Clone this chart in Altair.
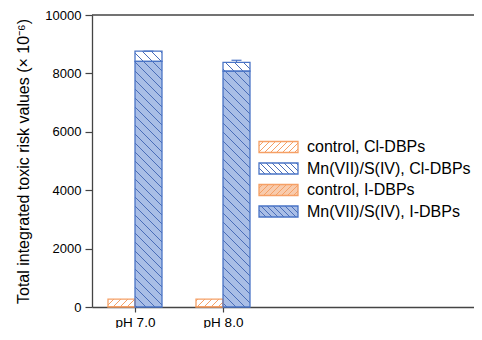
import math
import altair as alt
import pandas as pd

# ---------------- data ----------------
ph_labels = ["pH 7.0", "pH 8.0"]
ph_pos = [1, 2]
ctrl_cl = [260, 260]
ctrl_i = [10, 10]
mn_cl = [350, 300]
mn_i = [8410, 8080]
mn_err = [0, 70]
series_names = ["control, Cl-DBPs", "Mn(VII)/S(IV), Cl-DBPs",
                "control, I-DBPs", "Mn(VII)/S(IV), I-DBPs"]
y_ticks = [0, 2000, 4000, 6000, 8000, 10000]
Y_TITLE = "Total integrated toxic risk values (× 10⁻⁶)"

# ---------------- layout ----------------
W, H = 382, 292
PAD = {"left": 84, "top": 7, "right": 0, "bottom": 21}
X_MIN = 1 - 43 / 88
X_MAX = X_MIN + W / 88
Y_MAX = 10000
kx = W / (X_MAX - X_MIN)     # px per x unit
ky = H / Y_MAX               # px per y unit
BAR_W = 27 / kx
FONT = "Liberation Sans"

ORANGE = "#F5A066"
ORANGE_FILL = "#F8CBAD"
BLUE = "#4A74C6"
BLUE_FILL = "#A9BEE6"
BLUE_HATCH = "#4A6DB8"

style = {
    "control, Cl-DBPs": dict(fill="white", stroke=ORANGE, hatch=ORANGE, dir="/", step=7),
    "Mn(VII)/S(IV), Cl-DBPs": dict(fill="white", stroke=BLUE, hatch=BLUE_HATCH, dir="\\", step=9),
    "control, I-DBPs": dict(fill=ORANGE_FILL, stroke=ORANGE, hatch=ORANGE, dir="/", step=7),
    "Mn(VII)/S(IV), I-DBPs": dict(fill=BLUE_FILL, stroke=BLUE, hatch=BLUE_HATCH, dir="\\", step=9),
}


def hatch(x0, x1, y0, y1, direction, step):
    """45-degree hatch segments clipped to a rectangle given in data units."""
    X0, X1 = (x0 - X_MIN) * kx, (x1 - X_MIN) * kx
    Y0, Y1 = y0 * ky, y1 * ky
    segs = []
    if direction == "\\":
        c = math.ceil((X0 + Y0) / step) * step
        while c <= X1 + Y1:
            a, b = max(X0, c - Y1), min(X1, c - Y0)
            if b - a > 0.3:
                segs.append((a, c - a, b, c - b))
            c += step
    else:
        c = math.ceil((Y0 - X1) / step) * step
        while c <= Y1 - X0:
            a, b = max(X0, Y0 - c), min(X1, Y1 - c)
            if b - a > 0.3:
                segs.append((a, a + c, b, b + c))
            c += step
    return [dict(xa=X_MIN + a / kx, ya=ay / ky, xb=X_MIN + b / kx, yb=by / ky)
            for a, ay, b, by in segs]


# ---------------- bars ----------------
rects = []
for i, x in enumerate(ph_pos):
    rects.append(dict(series=series_names[2], x0=x - BAR_W, x1=x, y0=0, y1=ctrl_i[i]))
    rects.append(dict(series=series_names[0], x0=x - BAR_W, x1=x,
                      y0=ctrl_i[i], y1=ctrl_i[i] + ctrl_cl[i]))
    rects.append(dict(series=series_names[3], x0=x, x1=x + BAR_W, y0=0, y1=mn_i[i]))
    rects.append(dict(series=series_names[1], x0=x, x1=x + BAR_W,
                      y0=mn_i[i], y1=mn_i[i] + mn_cl[i]))
for r in rects:
    st = style[r["series"]]
    r["fill"], r["stroke"] = st["fill"], st["stroke"]
bars = pd.DataFrame(rects)

hatch_rows = []
for r in rects:
    st = style[r["series"]]
    for s in hatch(r["x0"], r["x1"], r["y0"], r["y1"], st["dir"], st["step"]):
        s["color"] = st["hatch"]
        hatch_rows.append(s)

err_rows = []
cap_half = 5 / kx
for i, x in enumerate(ph_pos):
    top = mn_i[i] + mn_cl[i]
    xc = x + BAR_W / 2
    err_rows.append(dict(xa=xc, xb=xc, ya=top, yb=top + mn_err[i]))
    err_rows.append(dict(xa=xc - cap_half, xb=xc + cap_half,
                         ya=top + mn_err[i], yb=top + mn_err[i]))
errs = pd.DataFrame(err_rows)

# ---------------- legend (pixel layout inside plot -> data units) ----------------
def px2x(px):
    return X_MIN + px / kx


def py2y(py):
    return Y_MAX * (1 - py / H)


leg_rects, leg_text = [], []
for k, name in enumerate(series_names):
    cy = 132 + 21.5 * k
    r = dict(series=name, x0=px2x(167), x1=px2x(206),
             y0=py2y(cy + 5.5), y1=py2y(cy - 5.5))
    st = style[name]
    r["fill"], r["stroke"] = st["fill"], st["stroke"]
    leg_rects.append(r)
    for s in hatch(r["x0"], r["x1"], r["y0"], r["y1"], st["dir"], 6):
        s["color"] = st["hatch"]
        hatch_rows.append(s)
    leg_text.append(dict(label=name, tx=px2x(215), ty=py2y(cy)))
legr = pd.DataFrame(leg_rects)
legt = pd.DataFrame(leg_text)
hatches = pd.DataFrame(hatch_rows)

# ---------------- scales / axes ----------------
xs = alt.Scale(domain=[X_MIN, X_MAX], nice=False, zero=False)
ys = alt.Scale(domain=[0, Y_MAX], nice=False)
label_expr = " : ".join(
    f"datum.value == {p} ? '{l}'" for p, l in zip(ph_pos, ph_labels)) + " : ''"
xa = alt.Axis(values=ph_pos, labelExpr=label_expr, title=None, grid=False,
              tickSize=5, labelPadding=3, labelFontSize=13.5, labelFont=FONT,
              labelColor="black", domainColor="#444", tickColor="#444",
              domainWidth=1.3, tickWidth=1.2)
ya = alt.Axis(values=y_ticks, format="d", title=Y_TITLE, grid=False,
              tickSize=7, labelPadding=4, labelFontSize=13, labelFont=FONT,
              labelColor="black", titleFont=FONT, titleFontSize=16,
              titleFontWeight="normal", titleColor="black", titlePadding=13,
              domainColor="#444", tickColor="#444", domainWidth=1.3, tickWidth=1.2)


def X(f):
    return alt.X(f, scale=xs, axis=xa)


def Y(f):
    return alt.Y(f, scale=ys, axis=ya)


fill_layer = alt.Chart(bars).mark_rect(strokeWidth=0).encode(
    x=X("x0:Q"), x2="x1", y=Y("y0:Q"), y2="y1",
    fill=alt.Fill("fill:N", scale=None))
leg_fill = alt.Chart(legr).mark_rect(strokeWidth=0).encode(
    x=X("x0:Q"), x2="x1", y=Y("y0:Q"), y2="y1",
    fill=alt.Fill("fill:N", scale=None))
hatch_layer = alt.Chart(hatches).mark_rule(strokeWidth=1).encode(
    x=X("xa:Q"), x2="xb", y=Y("ya:Q"), y2="yb",
    color=alt.Color("color:N", scale=None))
outline = alt.Chart(bars).mark_rect(fillOpacity=0, strokeWidth=1.3).encode(
    x=X("x0:Q"), x2="x1", y=Y("y0:Q"), y2="y1",
    stroke=alt.Stroke("stroke:N", scale=None))
leg_outline = alt.Chart(legr).mark_rect(fillOpacity=0, strokeWidth=1.3).encode(
    x=X("x0:Q"), x2="x1", y=Y("y0:Q"), y2="y1",
    stroke=alt.Stroke("stroke:N", scale=None))
err_layer = alt.Chart(errs).mark_rule(strokeWidth=1.2, color=BLUE).encode(
    x=X("xa:Q"), x2="xb", y=Y("ya:Q"), y2="yb")
top_line = alt.Chart(pd.DataFrame({"top": [Y_MAX]})).mark_rule(
    strokeWidth=1.3, color="#444").encode(y=Y("top:Q"))
leg_label = alt.Chart(legt).mark_text(
    align="left", baseline="middle", fontSize=16, font=FONT, color="black").encode(
    x=X("tx:Q"), y=Y("ty:Q"), text="label:N")

chart = alt.layer(
    fill_layer, leg_fill, hatch_layer, outline, leg_outline, err_layer, top_line,
    leg_label
).properties(
    width=W, height=H,
    padding=PAD,
    autosize=alt.AutoSizeParams(type="none"),
    background="white",
).configure_view(stroke=None)

chart.save("out.html", embed_options={"renderer": "svg", "actions": False})
